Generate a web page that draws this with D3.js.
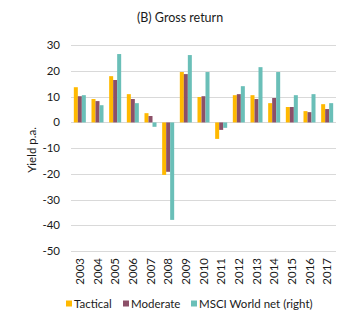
<!DOCTYPE html>
<html>
<head>
<meta charset="utf-8">
<script src="https://cdn.jsdelivr.net/npm/d3@7"></script>
<style>
  body { margin: 0; background: #fff; }
  text { font-family: Lato, "Noto Sans", sans-serif; fill: #1a1a1a; }
</style>
</head>
<body>
<div id="chart"></div>
<script>
// (B) Gross return - grouped bars
const years = ["2003","2004","2005","2006","2007","2008","2009","2010","2011","2012","2013","2014","2015","2016","2017"];
const tactical = [13.7, 9.1, 18.0, 11.0, 3.6, -20.4, 19.6, 9.9, -6.4, 10.6, 10.6, 7.5, 6.0, 4.4, 7.1];
const moderate = [10.2, 8.3, 16.5, 9.1, 2.5, -19.2, 18.8, 10.2, -2.9, 11.0, 9.1, 9.5, 6.0, 4.0, 5.2];
const msci = [10.6, 6.7, 26.6, 7.5, -1.7, -37.9, 26.2, 19.6, -2.1, 14.1, 21.5, 19.6, 10.6, 11.0, 7.5];
const seriesNames = ["Tactical", "Moderate", "MSCI World net (right)"];
const yTicks = [30, 20, 10, 0, -10, -20, -30, -40, -50];

const colors = ["#FFB900", "#8C5068", "#6ABFB8"];
const seriesValues = [tactical, moderate, msci];

const width = 360, height = 325;
const svg = d3.select("#chart").append("svg")
    .attr("width", width)
    .attr("height", height);

const x = d3.scaleBand().domain(years).range([71, 336]).paddingInner(0.32).paddingOuter(0.16);
const x1 = d3.scaleBand().domain(d3.range(3)).range([0, x.bandwidth()]);
const y = d3.scaleLinear().domain([-50, 30]).range([251, 45.3]);

// gridlines
svg.selectAll("line.grid")
    .data(yTicks)
    .enter().append("line")
    .attr("x1", 71).attr("x2", 336)
    .attr("y1", d => Math.round(y(d)) + 0.5)
    .attr("y2", d => Math.round(y(d)) + 0.5)
    .attr("stroke", "#d9d9d9")
    .attr("stroke-width", 1);

// y tick labels
svg.selectAll("text.ytick")
    .data(yTicks)
    .enter().append("text")
    .attr("x", 60)
    .attr("y", d => y(d) + 4)
    .attr("text-anchor", "end")
    .style("font-size", "11.5px")
    .text(d => d);

// bars
const groups = svg.selectAll("g.year")
    .data(years)
    .enter().append("g")
    .attr("transform", d => `translate(${x(d)},0)`);

groups.selectAll("rect")
    .data((d, i) => seriesValues.map((s, k) => ({ k: k, v: s[i] })))
    .enter().append("rect")
    .attr("x", d => x1(d.k))
    .attr("width", x1.bandwidth())
    .attr("y", d => y(Math.max(0, d.v)))
    .attr("height", d => Math.abs(y(d.v) - y(0)))
    .attr("fill", d => colors[d.k]);

// x labels (rotated)
svg.selectAll("text.xtick")
    .data(years)
    .enter().append("text")
    .attr("transform", d => `translate(${x(d) + x.bandwidth() / 2 + 4},258) rotate(-90)`)
    .attr("text-anchor", "end")
    .style("font-size", "11.5px")
    .text(d => d);

// title
svg.append("text")
    .attr("x", 180).attr("y", 22)
    .attr("text-anchor", "middle")
    .style("font-size", "12.5px")
    .text("(B) Gross return");

// y axis label
svg.append("text")
    .attr("transform", "translate(36,150) rotate(-90)")
    .attr("text-anchor", "middle")
    .style("font-size", "11.5px")
    .text("Yield p.a.");

// legend
const legendX = [66, 123, 191];
const legend = svg.selectAll("g.legend")
    .data(seriesNames)
    .enter().append("g")
    .attr("transform", (d, i) => `translate(${legendX[i]},301)`);
legend.append("rect")
    .attr("x", 0).attr("y", -0.5)
    .attr("width", 6).attr("height", 6)
    .attr("fill", (d, i) => colors[i]);
legend.append("text")
    .attr("x", 8).attr("y", 6.5)
    .style("font-size", "11.5px")
    .text(d => d);
</script>
</body>
</html>
